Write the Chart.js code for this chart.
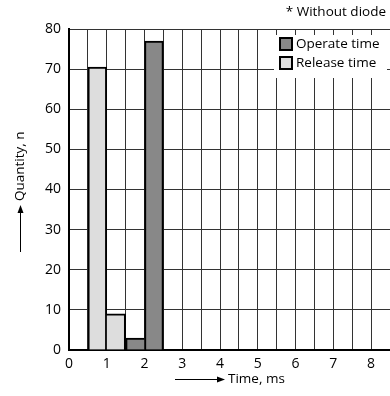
<!DOCTYPE html>
<html>
<head>
<meta charset="utf-8">
<script src="https://cdn.jsdelivr.net/npm/chart.js@4/dist/chart.umd.min.js"></script>
<style>
html,body{margin:0;padding:0;background:#fff;}
#wrap{width:390px;height:396px;position:relative;}
</style>
</head>
<body>
<div id="wrap"><canvas id="c" width="390" height="396"></canvas></div>
<script>
// Data
const releaseTimes = [0.75, 1.25];      // bin centres, ms
const releaseCounts = [70.5, 9];
const operateTimes = [1.75, 2.25];      // bin centres, ms
const operateCounts = [3, 77];
const seriesLabels = ['Operate time', 'Release time'];
const xTitle = 'Time, ms';
const yTitle = 'Quantity, n';
const note = '* Without diode';

Chart.defaults.font.family = "'Open Sans', sans-serif";
Chart.defaults.font.size = 14;
Chart.defaults.color = '#000';

const OPER = '#888888', REL = '#dddddd';

const deco = {
  id: 'deco',
  afterDraw(chart) {
    const ctx = chart.ctx;
    ctx.save();
    ctx.fillStyle = '#000';
    ctx.strokeStyle = '#000';
    ctx.font = "13.5px 'Open Sans', sans-serif";
    // note
    ctx.textAlign = 'right'; ctx.textBaseline = 'middle';
    ctx.fillText(note, 386, 12);
    // legend
    ctx.fillStyle = '#fff';
    ctx.fillRect(274, 35, 113, 43);
    const items = [[seriesLabels[0], OPER], [seriesLabels[1], REL]];
    items.forEach((it, i) => {
      const y = 38 + i * 19;
      ctx.fillStyle = it[1];
      ctx.fillRect(280, y, 12, 12);
      ctx.lineWidth = 2;
      ctx.strokeStyle = '#000';
      ctx.strokeRect(280, y, 12, 12);
      ctx.fillStyle = '#000';
      ctx.textAlign = 'left';
      ctx.fillText(it[0], 296, y + 6.5);
    });
    // x title with arrow
    const xy = 379;
    ctx.lineWidth = 1;
    ctx.beginPath(); ctx.moveTo(175, xy + 0.5); ctx.lineTo(220, xy + 0.5); ctx.stroke();
    ctx.beginPath(); ctx.moveTo(225, xy + 0.5); ctx.lineTo(217, xy - 2.5); ctx.lineTo(217, xy + 3.5); ctx.closePath(); ctx.fill();
    ctx.textAlign = 'left';
    ctx.fillText(xTitle, 228, xy);
    // y title with arrow
    const yx = 20;
    ctx.beginPath(); ctx.moveTo(yx + 0.5, 252); ctx.lineTo(yx + 0.5, 210); ctx.stroke();
    ctx.beginPath(); ctx.moveTo(yx + 0.5, 205); ctx.lineTo(yx - 2.5, 213); ctx.lineTo(yx + 3.5, 213); ctx.closePath(); ctx.fill();
    ctx.translate(yx, 201);
    ctx.rotate(-Math.PI / 2);
    ctx.textAlign = 'left'; ctx.textBaseline = 'middle';
    ctx.fillText(yTitle, 0, 0);
    ctx.restore();
  }
};

new Chart(document.getElementById('c'), {
  type: 'bar',
  data: {
    datasets: [
      {
        label: seriesLabels[1],
        data: releaseTimes.map((t, i) => ({x: t, y: releaseCounts[i]})),
        backgroundColor: REL,
        borderColor: '#000',
        borderWidth: [{top: 2, left: 2, right: 2, bottom: 0}, {top: 2, left: 0, right: 2, bottom: 0}],
        borderSkipped: false,
        grouped: false,
        barPercentage: 1,
        categoryPercentage: 1
      },
      {
        label: seriesLabels[0],
        data: operateTimes.map((t, i) => ({x: t, y: operateCounts[i]})),
        backgroundColor: OPER,
        borderColor: '#000',
        borderWidth: [{top: 2, left: 2, right: 0, bottom: 0}, {top: 2, left: 2, right: 2, bottom: 0}],
        borderSkipped: false,
        grouped: false,
        barPercentage: 1,
        categoryPercentage: 1
      }
    ]
  },
  options: {
    responsive: false,
    animation: false,
    layout: {padding: {top: 29, right: 0, left: 0, bottom: 0}},
    plugins: {legend: {display: false}, tooltip: {enabled: false}},
    scales: {
      x: {
        type: 'linear', min: 0, max: 8.5, offset: false,
        afterFit(s) { s.height = 46; s.paddingRight = 0; s.paddingLeft = 0; },
        ticks: {
          stepSize: 0.5, autoSkip: false, maxRotation: 0, padding: 6,
          callback: v => (Math.abs(v - Math.round(v)) < 1e-9 ? String(Math.round(v)) : '')
        },
        grid: {color: '#333', lineWidth: 1, drawTicks: false, offset: false},
        border: {display: true, color: '#000', width: 2}
      },
      y: {
        min: 0, max: 80,
        afterFit(s) { s.width = 69; s.paddingTop = 0; s.paddingBottom = 0; },
        ticks: {stepSize: 10, padding: 8},
        grid: {color: '#333', lineWidth: 1, drawTicks: false},
        border: {display: true, color: '#000', width: 2}
      }
    }
  },
  plugins: [deco]
});
</script>
</body>
</html>
